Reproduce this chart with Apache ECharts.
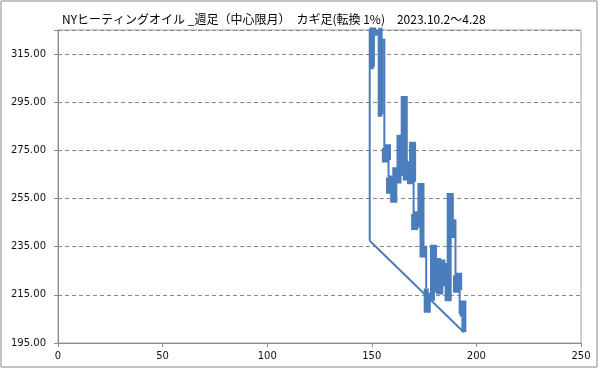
<!DOCTYPE html>
<html>
<head>
<meta charset="utf-8">
<script src="https://cdn.jsdelivr.net/npm/echarts@6/dist/echarts.min.js"></script>
<style>html,body{margin:0;padding:0;background:#fff}#c{width:599px;height:369px}</style>
</head>
<body>
<div id="c"></div>
<script>
const titleText = 'NYヒーティングオイル _週足（中心限月）　カギ足(転換 1%)　2023.10.2～4.28';
const xTicks = [0, 50, 100, 150, 200, 250];
const yTicks = [195, 215, 235, 255, 275, 295, 315];

// Kagi path vertices (reversal index, price) and line weight per segment (1 = thick, 0 = thin)
const kagiX = [149,149,150,150,151,151,152,152,153,153,154,154,155,155,156,156,156,157,157,158,158,158,158,159,159,160,160,161,161,162,162,163,163,164,164,165,165,166,166,167,167,168,168,169,169,170,170,170,170,171,171,172,172,173,173,174,174,175,175,176,176,176,177,177,178,178,179,179,180,180,181,181,182,182,183,183,184,184,185,185,186,186,187,187,188,188,189,189,190,190,190,191,191,192,192,192,193,193,194,194,149];
const kagiY = [237.5,330,330,309.7,309.7,325.5,325.5,323,323,325,325,290,290,321,321,276,271,271,276.5,276.5,271,263.7,258,258,263.5,263.5,254.3,254.3,267,267,262.3,262.3,280.5,280.5,265.5,265.5,296.5,296.5,263.5,263.5,269.5,269.5,262,262,277.5,277.5,262,248.7,243,243,248.7,248.7,244,244,260.4,260.4,231.5,231.5,235,235,217.6,208.6,208.6,215.5,215.5,212.5,212.5,234.8,234.8,217,217,229.3,229.3,216.2,216.2,228.6,228.6,219.6,219.6,227.2,227.2,213.4,213.4,256.3,256.3,239.7,239.7,246,246,223.1,216.9,216.9,223.1,223.1,216.9,207,207,211.6,211.6,199.5,237.5];
const kagiBold = [0,0,1,1,0,1,0,0,0,1,1,1,0,0,0,1,1,1,1,1,0,1,1,1,1,1,1,1,1,1,1,1,1,1,1,1,1,1,1,1,1,1,1,1,1,1,0,1,1,1,1,1,1,1,1,1,1,1,0,0,1,1,1,0,0,0,1,1,1,1,1,1,1,1,1,1,1,1,1,1,1,1,1,1,1,1,1,0,0,1,1,1,1,1,0,1,1,1,1,0];

const lineColor = '#4a7dbb';
const series = [];
let run = null;
for (let i = 0; i < kagiX.length - 1; i++) {
  const b = kagiBold[i];
  if (!run || run.bold !== b) {
    run = { bold: b, pts: [[kagiX[i], kagiY[i]]] };
    series.push(run);
  }
  run.pts.push([kagiX[i + 1], kagiY[i + 1]]);
}
const seriesOpts = series.map(r => ({
  type: 'line',
  data: r.pts,
  symbol: 'none',
  clip: true,
  animation: false,
  silent: true,
  z: r.bold ? 3 : 4,
  lineStyle: { color: lineColor, width: r.bold ? 5 : 2, join: 'miter', cap: 'butt' }
}));

const chart = echarts.init(document.getElementById('c'), null, { renderer: 'canvas' });
chart.setOption({
  animation: false,
  backgroundColor: '#fff',
  grid: { left: 58, right: 18, top: 30, bottom: 26, show: true, borderColor: '#a0a0a0', borderWidth: 1, containLabel: false },
  xAxis: {
    type: 'value', min: xTicks[0], max: xTicks[xTicks.length - 1], interval: 50,
    axisLine: { show: true, lineStyle: { color: '#8c8c8c' } },
    axisTick: { show: true, length: 4, lineStyle: { color: '#8c8c8c' } },
    splitLine: { show: false },
    axisLabel: { color: '#111', fontFamily: 'DejaVu Sans', fontSize: 10, margin: 8 }
  },
  yAxis: {
    type: 'value', min: yTicks[0], max: 325, interval: 20,
    axisLine: { show: true, lineStyle: { color: '#8c8c8c' } },
    axisTick: { show: true, length: 4, lineStyle: { color: '#8c8c8c' } },
    splitLine: { show: true, lineStyle: { color: '#888', type: [4, 3], width: 1 } },
    axisLabel: {
      color: '#111', fontFamily: 'DejaVu Sans', fontSize: 10, margin: 12,
      formatter: v => (yTicks.indexOf(v) >= 0 ? v.toFixed(2) : '')
    }
  },
  graphic: [
    { type: 'rect', shape: { x: 1, y: 1, width: 596, height: 366 }, style: { fill: 'none', stroke: '#8a8a8a', lineWidth: 1 }, silent: true, z: 0 },
    { type: 'text', x: 62, y: 19, style: { text: titleText, fill: '#000', font: '12px "Noto Sans CJK JP"', textVerticalAlign: 'middle' }, silent: true }
  ],
  series: seriesOpts
});
</script>
</body>
</html>
